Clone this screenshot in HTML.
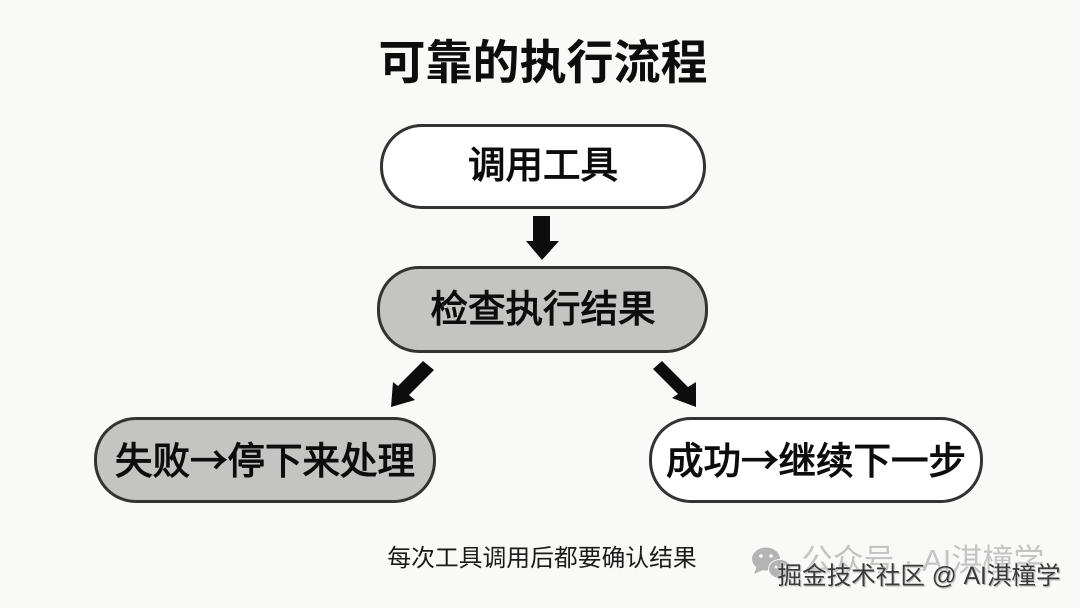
<!DOCTYPE html>
<html><head><meta charset="utf-8"><style>
html,body{margin:0;padding:0}
body{width:1080px;height:608px;overflow:hidden;background:#f9f9f7;position:relative;font-family:"Liberation Sans","Noto Sans CJK SC",sans-serif;color:#111}
.t{position:absolute;white-space:nowrap;text-align:center;line-height:1;transform:translateX(-50%)}
.b{position:absolute;box-sizing:border-box;border:3px solid #333;border-radius:42px;background:#fff}
.g{background:#c4c4c2}
.bd{font-weight:400;-webkit-text-stroke:1.1px #0d0d0d;color:#0d0d0d}
.a{font-family:"Noto Sans CJK SC",sans-serif}
svg{position:absolute;left:0;top:0}
</style></head><body>
<div class="t" style="left:543px;top:39px;font-size:47px;font-weight:700;color:#0d0d0d">可靠的执行流程</div>
<div class="b" style="left:380px;top:124px;width:326px;height:85px"></div>
<div class="t bd" style="left:543px;top:147px;font-size:37.5px">调用工具</div>
<div class="b g" style="left:377px;top:266px;width:331px;height:87px"></div>
<div class="t bd" style="left:543px;top:291px;font-size:37.5px">检查执行结果</div>
<div class="b g" style="left:94px;top:417px;width:342px;height:86px"></div>
<div class="t bd" style="left:265px;top:439px;font-size:37.5px">失败<span class="a">→</span>停下来处理</div>
<div class="b" style="left:649px;top:417px;width:334px;height:86px"></div>
<div class="t bd" style="left:816px;top:439px;font-size:37.5px">成功<span class="a">→</span>继续下一步</div>
<svg width="1080" height="608" viewBox="0 0 1080 608">
<polygon fill="#0d0d0d" points="533,216 550,216 550,241 559,241 542,260 526,241 533,241"/>
<polygon fill="#0d0d0d" points="423,361 434,370 409,395 415,400 391,407 393,382 398,386"/>
<polygon fill="#0d0d0d" points="662,361 688,387 696,382 696,407 672,398 678,394 653,369"/>
<g fill="#b4b4b4"><ellipse cx="766" cy="559" rx="14" ry="11.5"/><polygon points="757,566 754,574 765,569"/>
<ellipse cx="780" cy="569" rx="11.5" ry="9.5" stroke="#f9f9f7" stroke-width="1"/></g>
<g fill="#f9f9f7"><circle cx="761" cy="556" r="1.8"/><circle cx="771" cy="556" r="1.8"/><circle cx="776" cy="567" r="1.5"/><circle cx="785" cy="567" r="1.5"/></g>
</svg>
<div class="t" style="left:542px;top:547px;font-size:23.8px;color:#1a1a1a">每次工具调用后都要确认结果</div>
<div class="t" style="left:923px;top:545px;font-size:31px;color:#c4c4c4">公众号 · AI淇橦学</div>
<div class="t" style="left:919px;top:565px;font-size:24.6px;color:#3a3a3a;text-shadow:0 0 2px #fff,1px 1px 1px #999">掘金技术社区 @ AI淇橦学</div>
</body></html>
